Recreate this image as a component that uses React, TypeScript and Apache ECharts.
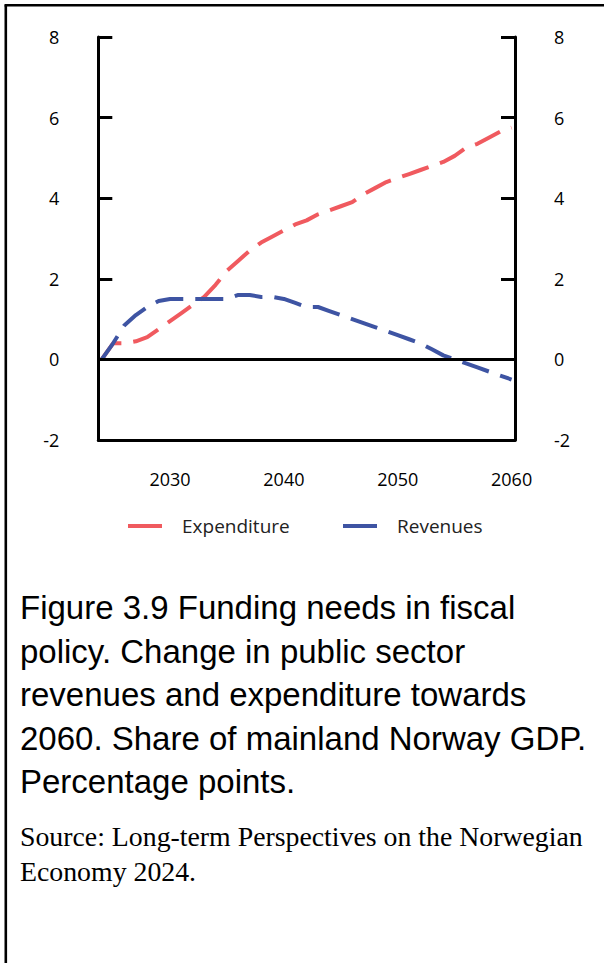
import React, { useEffect, useRef } from "react";
import * as echarts from "echarts";

const years = [
  2024, 2025, 2026, 2027, 2028, 2029, 2030, 2031, 2032, 2033, 2034, 2035, 2036,
  2037, 2038, 2039, 2040, 2041, 2042, 2043, 2044, 2045, 2046, 2047, 2048, 2049,
  2050, 2051, 2052, 2053, 2054, 2055, 2056, 2057, 2058, 2059, 2060,
];
const expenditure = [
  0, 0.4, 0.4, 0.45, 0.55, 0.75, 0.95, 1.15, 1.35, 1.55, 1.85, 2.2, 2.45,
  2.7, 2.9, 3.05, 3.2, 3.35, 3.45, 3.6, 3.7, 3.8, 3.9, 4.1, 4.25, 4.4,
  4.5, 4.6, 4.7, 4.8, 4.9, 5.05, 5.25, 5.35, 5.5, 5.65, 5.75,
];
const revenues = [
  0, 0.4, 0.85, 1.1, 1.3, 1.45, 1.5, 1.5, 1.5, 1.5, 1.5, 1.5, 1.6,
  1.6, 1.55, 1.55, 1.5, 1.4, 1.3, 1.3, 1.2, 1.1, 1.0, 0.9, 0.8, 0.7,
  0.6, 0.5, 0.4, 0.25, 0.1, 0.0, -0.1, -0.2, -0.3, -0.4, -0.5,
];
const seriesNames = ["Expenditure", "Revenues"];
const xTickLabels = [2030, 2040, 2050, 2060];
const yMin = -2;
const yMax = 8;
const yStep = 2;
const captionLines = [
  "Figure 3.9 Funding needs in fiscal",
  "policy. Change in public sector",
  "revenues and expenditure towards",
  "2060. Share of mainland Norway GDP.",
  "Percentage points.",
];
const sourceLines = [
  "Source: Long-term Perspectives on the Norwegian",
  "Economy 2024.",
];

const RED = "#F05A5F";
const BLUE = "#3E54A3";
const COLORS = [RED, BLUE];
const TICK_FONT = '"Open Sans", sans-serif';
const LEGEND_X = [128, 343];

export default function App() {
  const ref = useRef<HTMLDivElement>(null);
  useEffect(() => {
    const chart = echarts.init(ref.current!, null, { renderer: "svg" });
    const yAxisCommon = {
      type: "value",
      min: yMin,
      max: yMax,
      interval: yStep,
      axisLine: { show: true, onZero: false, lineStyle: { color: "#000", width: 3 } },
      axisTick: { show: true, inside: true, length: 14, lineStyle: { color: "#000", width: 3 } },
      splitLine: { show: false },
      axisLabel: { color: "#000", fontSize: 18, fontFamily: TICK_FONT, margin: 39 },
    };
    const legendGraphics: any[] = [];
    seriesNames.forEach((n, i) => {
      legendGraphics.push({
        type: "rect",
        shape: { x: LEGEND_X[i], y: 524, width: 34, height: 4 },
        style: { fill: COLORS[i] },
      });
      legendGraphics.push({
        type: "text",
        x: LEGEND_X[i] + 54,
        y: 526,
        style: {
          text: n,
          fill: "#222",
          fontSize: 19,
          fontFamily: TICK_FONT,
          align: "left",
          verticalAlign: "middle",
        },
      });
    });
    chart.setOption({
      animation: false,
      backgroundColor: "#fff",
      grid: { left: 98.3, right: 89, top: 37, bottom: 523, containLabel: false },
      xAxis: {
        type: "value",
        min: 2023.7,
        max: 2060.3,
        axisLine: { show: true, onZero: false, lineStyle: { color: "#000", width: 3 } },
        axisTick: { show: false },
        splitLine: { show: false },
        axisLabel: {
          color: "#000",
          fontSize: 18,
          fontFamily: TICK_FONT,
          margin: 30,
          customValues: xTickLabels,
          formatter: (v: number) => String(v),
        },
      },
      yAxis: [
        { ...yAxisCommon, position: "left" },
        { ...yAxisCommon, position: "right" },
      ],
      series: [
        {
          name: seriesNames[0],
          type: "line",
          yAxisIndex: 0,
          showSymbol: false,
          symbol: "none",
          color: RED,
          lineStyle: { color: RED, width: 4, type: [28, 12] },
          data: years.map((y, i) => [y, expenditure[i]]),
          markLine: {
            silent: true,
            symbol: "none",
            label: { show: false },
            lineStyle: { color: "#000", width: 3, type: "solid" },
            data: [{ yAxis: 0 }],
          },
        },
        {
          name: seriesNames[1],
          type: "line",
          yAxisIndex: 0,
          showSymbol: false,
          symbol: "none",
          color: BLUE,
          lineStyle: { color: BLUE, width: 4, type: [28, 12] },
          data: years.map((y, i) => [y, revenues[i]]),
        },
      ],
      graphic: [
        {
          type: "line",
          shape: { x1: 5.8, y1: 5.3, x2: 5.8, y2: 963 },
          style: { stroke: "#000", lineWidth: 2.6 },
        },
        {
          type: "line",
          shape: { x1: 4.5, y1: 5.3, x2: 604, y2: 5.3 },
          style: { stroke: "#000", lineWidth: 2.6 },
        },
        ...legendGraphics,
        ...captionLines.map((t, i) => ({
          type: "text",
          x: 20,
          y: 607.5 + i * 43.5,
          style: {
            text: t,
            fill: "#000",
            fontSize: 33,
            fontFamily: '"Liberation Sans", Arial, sans-serif',
            align: "left",
            verticalAlign: "middle",
          },
        })),
        ...sourceLines.map((t, i) => ({
          type: "text",
          x: 20,
          y: 836 + i * 35,
          style: {
            text: t,
            fill: "#000",
            fontSize: 27.8,
            fontFamily: '"Liberation Serif", "Times New Roman", serif',
            align: "left",
            verticalAlign: "middle",
          },
        })),
      ],
    });
    return () => chart.dispose();
  }, []);
  return (
    <div
      ref={ref}
      style={{ position: "fixed", left: 0, top: 0, width: 604, height: 963, background: "#fff" }}
    />
  );
}
